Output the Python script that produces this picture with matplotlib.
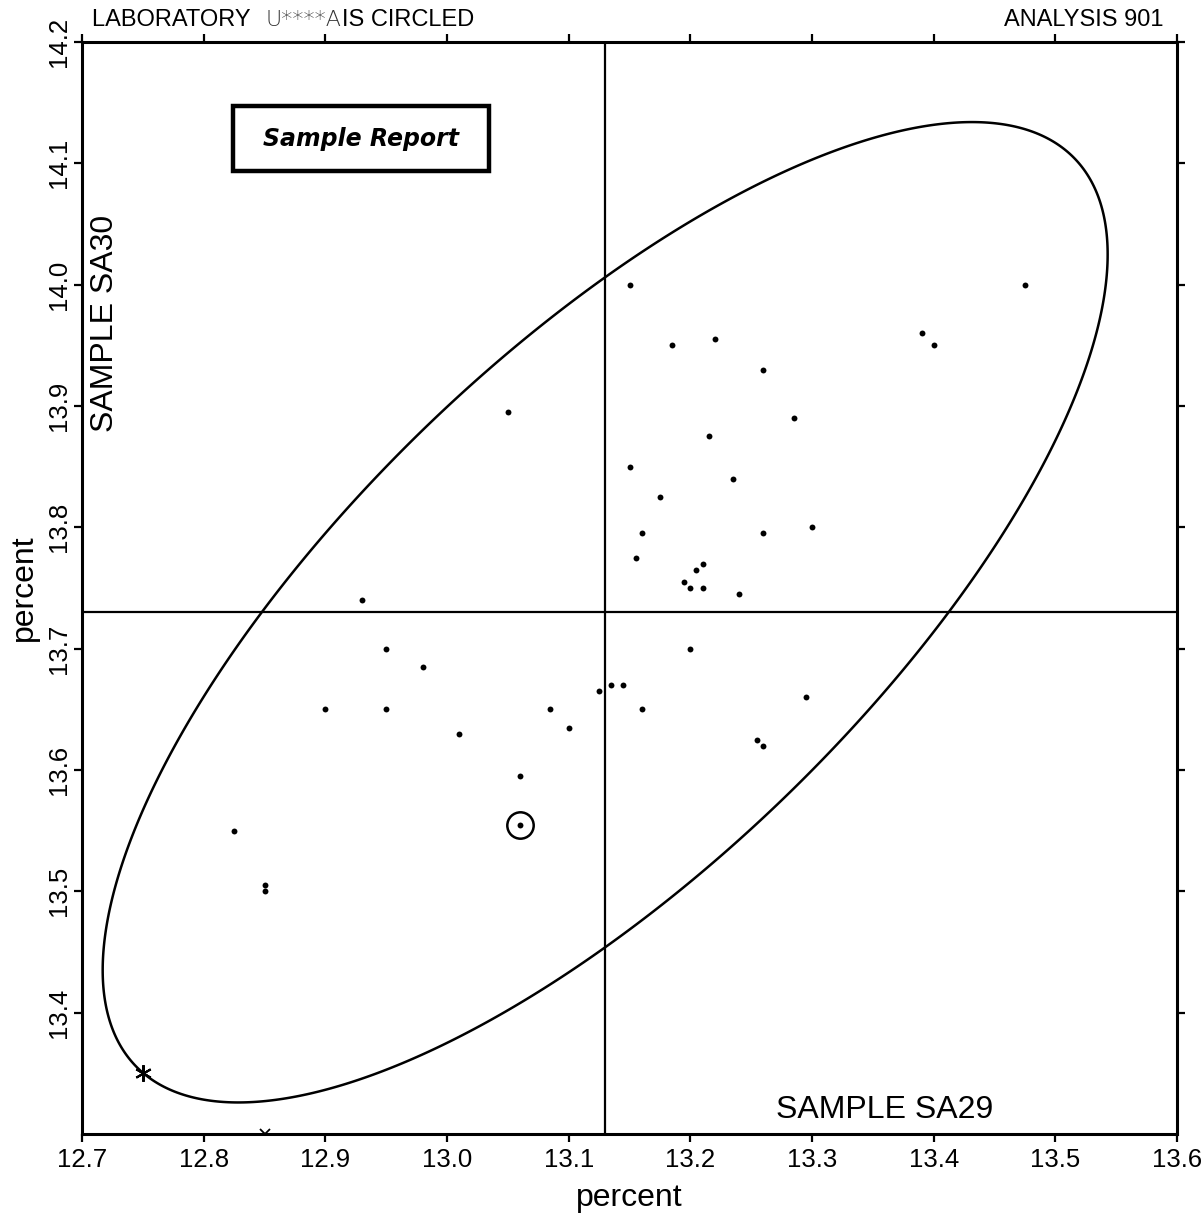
import numpy as np
import matplotlib
matplotlib.use("Agg")
import matplotlib.pyplot as plt
from matplotlib.patches import Rectangle, Polygon

plt.rcParams['font.family'] = ['Liberation Sans', 'DejaVu Sans']

# ---- data ----
sa29 = [13.475, 13.15, 13.39, 13.40, 13.185, 13.22, 13.26, 13.05, 13.285, 13.215,
        13.15, 13.235, 13.175, 13.30, 13.16, 13.26, 13.155, 13.21, 13.205, 13.195,
        13.20, 13.21, 13.24, 12.93, 12.95, 13.20, 12.98, 13.135, 13.145, 13.125,
        13.295, 12.90, 12.95, 13.085, 13.16, 13.10, 13.01, 13.255, 13.26, 13.06,
        12.825, 12.85, 12.85]
sa30 = [14.00, 14.00, 13.96, 13.95, 13.95, 13.955, 13.93, 13.895, 13.89, 13.875,
        13.85, 13.84, 13.825, 13.80, 13.795, 13.795, 13.775, 13.77, 13.765, 13.755,
        13.75, 13.75, 13.745, 13.74, 13.70, 13.70, 13.685, 13.67, 13.67, 13.665,
        13.66, 13.65, 13.65, 13.65, 13.65, 13.635, 13.63, 13.625, 13.62, 13.595,
        13.55, 13.505, 13.50]
lab_x, lab_y = 13.06, 13.555          # circled laboratory
star_x, star_y = 12.75, 13.35         # point on ellipse edge
edge_x, edge_y = 12.85, 13.30         # off-scale point at border
median_x, median_y = 13.13, 13.73     # crosshair lines
ell_ax, ell_ay, ell_rho = 0.413, 0.404, 0.73   # ellipse half extents & correlation

xticks = [12.7, 12.8, 12.9, 13.0, 13.1, 13.2, 13.3, 13.4, 13.5, 13.6]
yticks = [13.4, 13.5, 13.6, 13.7, 13.8, 13.9, 14.0, 14.1, 14.2]

W, H = 1204, 1213
fig = plt.figure(figsize=(W / 100, H / 100), dpi=100)
ax = fig.add_axes([82 / W, 1 - 1134 / H, (1177 - 82) / W, (1134 - 42) / H])
ax.set_xlim(12.7, 13.6)
ax.set_ylim(13.3, 14.2)

# crosshair
ax.axvline(median_x, color='black', lw=1.6, zorder=1)
ax.axhline(median_y, color='black', lw=1.6, zorder=1)

# ellipse
t = np.linspace(0, 2 * np.pi, 720, endpoint=False)
ex = median_x + ell_ax * np.cos(t)
ey = median_y + ell_ay * (ell_rho * np.cos(t) + np.sqrt(1 - ell_rho ** 2) * np.sin(t))
ax.add_patch(Polygon(np.column_stack([ex, ey]), closed=True, fill=False,
                     ec='black', lw=1.8, zorder=2))

# points
ax.scatter(sa29, sa30, s=18, color='black', zorder=3, linewidths=0)
ax.scatter([lab_x], [lab_y], s=18, color='black', zorder=3, linewidths=0)
ax.plot([lab_x], [lab_y], marker='o', ms=19, mfc='none', mec='black', mew=1.8, zorder=3)
ax.plot([star_x], [star_y], marker=(6, 2, 0), ms=12, color='black', mew=1.5, zorder=4)
ax.plot([edge_x], [edge_y], marker='x', ms=7, color='black', mew=1.3, zorder=4, clip_on=True)

# ticks and spines
ax.set_xticks(xticks)
ax.set_xticklabels([f"{v:.1f}" for v in xticks])
ax.set_yticks(yticks)
ax.set_yticklabels([f"{v:.1f}" for v in yticks], rotation=90, va='center')
ax.tick_params(axis='both', direction='out', length=6, width=1.6, labelsize=18.5,
               top=True, right=True, labeltop=False, labelright=False, pad=4)
ax.tick_params(axis='y', pad=2)
for s in ax.spines.values():
    s.set_linewidth(2.2)

ax.set_xlabel('percent', fontsize=23, labelpad=8)
ax.set_ylabel('percent', fontsize=23, labelpad=6)

ax.text(12.719, 13.968, 'SAMPLE SA30', rotation=90, fontsize=23,
        ha='center', va='center')
ax.text(13.36, 13.32, 'SAMPLE SA29', fontsize=23, ha='center', va='center')

# header
yb = 1 - 26 / H
fig.text(92 / W, yb, 'LABORATORY ', fontsize=17, ha='left', va='baseline')
fig.text(266 / W, yb, 'U****A', fontsize=16, ha='left', va='baseline',
         family=['DejaVu Sans'], fontweight='light', color='#333333')
fig.text(342 / W, yb, 'IS CIRCLED', fontsize=17, ha='left', va='baseline')
fig.text(1163 / W, yb, 'ANALYSIS 901', fontsize=17, ha='right', va='baseline')

# Sample Report box
fig.patches.append(Rectangle((233 / W, 1 - 171 / H), 256 / W, 65 / H,
                             transform=fig.transFigure, fill=False,
                             ec='black', lw=3.2))
fig.text(361 / W, 1 - 139 / H, 'Sample Report', fontsize=17, fontweight='bold',
         style='italic', ha='center', va='center', family=['DejaVu Sans'])

fig.savefig('out.png', dpi=100)
